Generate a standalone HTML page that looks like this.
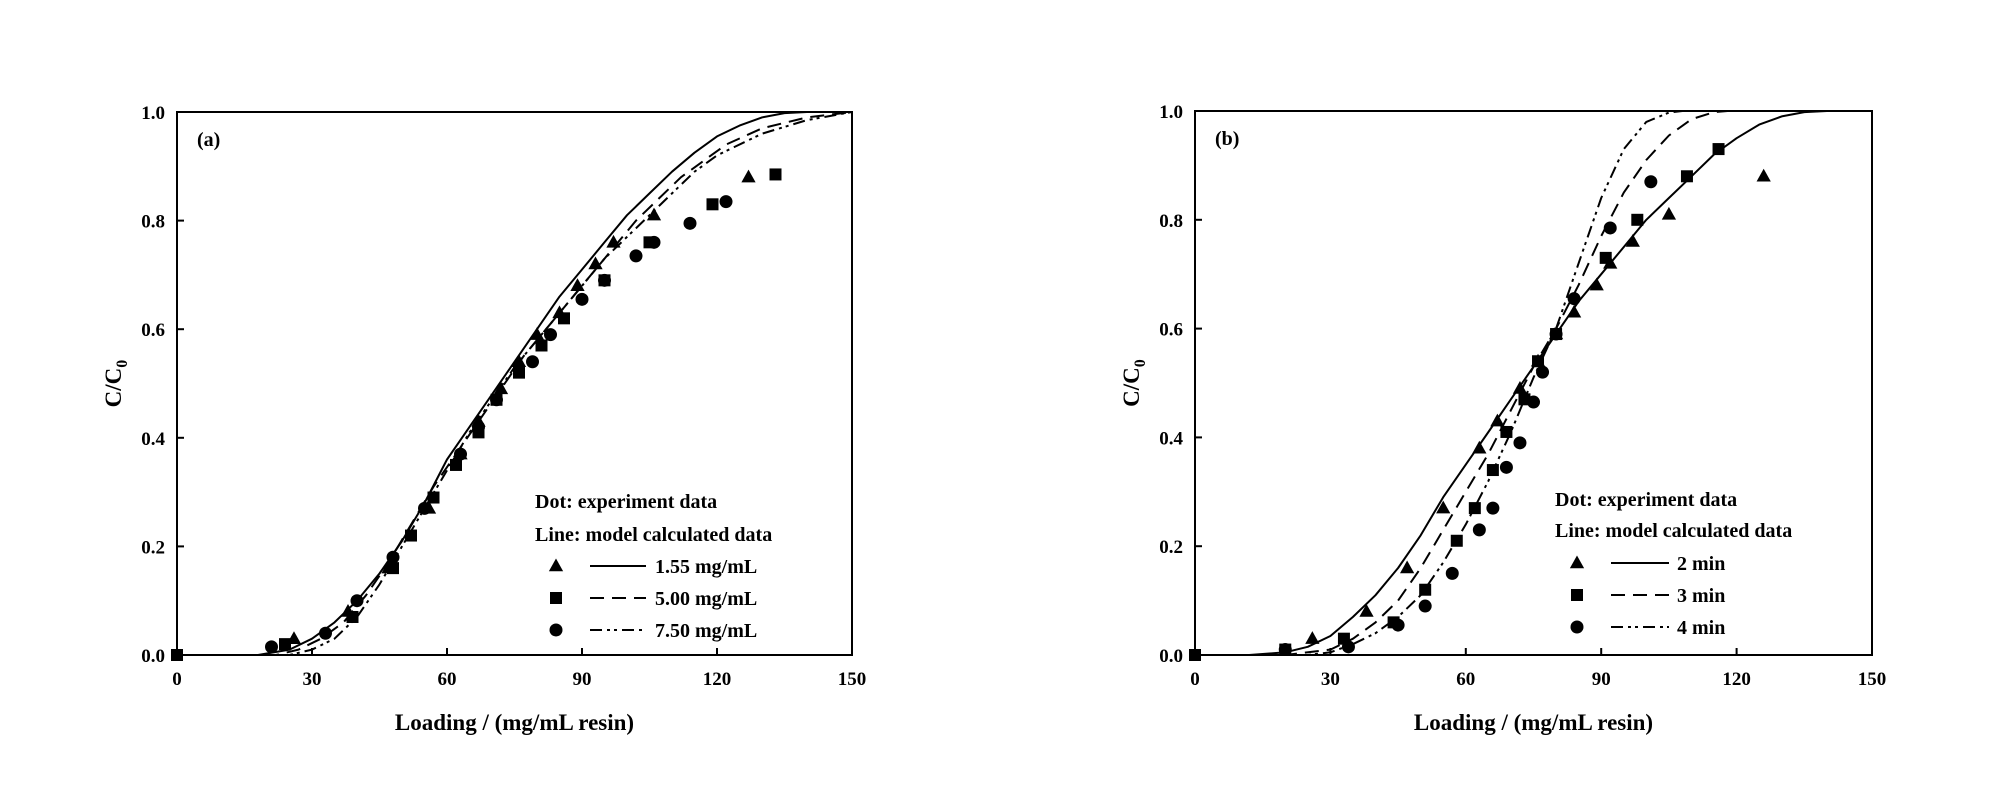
<!DOCTYPE html>
<html><head><meta charset="utf-8"><style>
html,body{margin:0;padding:0;background:#fff;}
svg{display:block;font-family:"Liberation Serif",serif;font-weight:bold;}
</style></head><body>
<svg id="chart" width="2006" height="802" viewBox="0 0 2006 802"></svg>
<script>
// ---- Panel (a) data ----
const aTriX=[26,38,47,56,63,67,72,76,80,85,89,93,97,106,127];
const aTriY=[0.03,0.08,0.16,0.27,0.37,0.43,0.49,0.54,0.59,0.63,0.68,0.72,0.76,0.81,0.88];
const aSqX=[0,24,39,48,52,57,62,67,71,76,81,86,95,105,119,133];
const aSqY=[0,0.02,0.07,0.16,0.22,0.29,0.35,0.41,0.47,0.52,0.57,0.62,0.69,0.76,0.83,0.885];
const aCirX=[21,33,40,48,55,63,67,71,79,83,90,95,102,106,114,122];
const aCirY=[0.015,0.04,0.1,0.18,0.27,0.37,0.42,0.47,0.54,0.59,0.655,0.69,0.735,0.76,0.795,0.835];
const aL1X=[0,18,25,30,35,40,45,50,55,60,65,70,75,80,85,90,95,100,105,110,115,120,125,130,135,140,150];
const aL1Y=[0,0,0.01,0.03,0.06,0.1,0.15,0.21,0.28,0.36,0.42,0.48,0.54,0.6,0.66,0.71,0.76,0.81,0.85,0.89,0.925,0.955,0.975,0.99,0.998,1,1];
const aL2X=[0,22,27,32,37,42,47,52,57,62,67,72,77,82,87,92,97,102,107,112,117,122,130,140,150];
const aL2Y=[0,0,0.01,0.03,0.06,0.11,0.17,0.24,0.31,0.37,0.43,0.49,0.55,0.6,0.65,0.7,0.75,0.8,0.84,0.88,0.91,0.94,0.97,0.99,1];
const aL3X=[0,25,30,35,40,45,50,55,60,65,70,75,80,85,90,95,100,105,110,115,120,130,140,150];
const aL3Y=[0,0,0.01,0.03,0.07,0.13,0.2,0.27,0.34,0.41,0.47,0.53,0.58,0.63,0.68,0.73,0.77,0.81,0.85,0.89,0.92,0.96,0.985,1];
const aLabels=["1.55 mg/mL","5.00 mg/mL","7.50 mg/mL"];
// ---- Panel (b) data ----
const bTriX=[26,38,47,55,63,67,72,76,80,84,89,92,97,105,126];
const bTriY=[0.03,0.08,0.16,0.27,0.38,0.43,0.49,0.54,0.59,0.63,0.68,0.72,0.76,0.81,0.88];
const bSqX=[0,20,33,44,51,58,62,66,69,73,76,80,91,98,109,116];
const bSqY=[0,0.01,0.03,0.06,0.12,0.21,0.27,0.34,0.41,0.47,0.54,0.59,0.73,0.8,0.88,0.93];
const bCirX=[20,34,45,51,57,63,66,69,72,75,77,80,84,92,101];
const bCirY=[0.01,0.015,0.055,0.09,0.15,0.23,0.27,0.345,0.39,0.465,0.52,0.59,0.655,0.785,0.87];
const bL1X=[0,12,20,25,30,35,40,45,50,55,60,65,70,75,80,85,90,95,100,105,110,115,120,125,130,135,140,150];
const bL1Y=[0,0,0.005,0.015,0.035,0.07,0.11,0.16,0.22,0.29,0.35,0.41,0.47,0.53,0.59,0.65,0.7,0.75,0.8,0.84,0.88,0.92,0.95,0.975,0.99,0.998,1,1];
const bL2X=[0,20,30,35,40,45,50,55,60,65,70,75,80,85,90,95,100,105,110,115,118,150];
const bL2Y=[0,0,0.01,0.03,0.06,0.1,0.16,0.23,0.3,0.37,0.45,0.53,0.6,0.68,0.77,0.85,0.91,0.955,0.985,0.998,1,1];
const bL3X=[0,25,30,35,40,45,50,55,60,65,70,75,80,85,90,95,100,105,108,150];
const bL3Y=[0,0,0.005,0.02,0.04,0.07,0.11,0.17,0.24,0.32,0.41,0.51,0.6,0.72,0.84,0.93,0.98,0.997,1,1];
const bLabels=["2 min","3 min","4 min"];
const xTicks=[0,30,60,90,120,150];
const yTicks=[0,0.2,0.4,0.6,0.8,1.0];

const NS="http://www.w3.org/2000/svg";
const svg=document.getElementById('chart');
function mk(tag,attrs,parent,text){const e=document.createElementNS(NS,tag);for(const k in attrs)e.setAttribute(k,attrs[k]);if(text!==undefined)e.textContent=text;(parent||svg).appendChild(e);return e;}

function panel(id,L,R,T,B,tag,tri,sq,cir,lines,labels,leg){
  const g=mk('g',{});
  
  
  const sx=v=>L+(v/150)*(R-L), sy=v=>B-v*(B-T);
  const frame=mk('rect',{x:L,y:T,width:R-L,height:B-T,fill:'none',stroke:'#000','stroke-width':2},g);
  
  
  xTicks.forEach(t=>{
    const x=sx(t);
    mk('line',{x1:x,y1:B,x2:x,y2:B-7,stroke:'#000','stroke-width':2},g);
    const tl=mk('text',{x:x,y:B+30,'font-size':19,'text-anchor':'middle'},g,String(t));
    
    
  });
  yTicks.forEach(t=>{
    const y=sy(t);
    mk('line',{x1:L,y1:y,x2:L+7,y2:y,stroke:'#000','stroke-width':2},g);
    const tl=mk('text',{x:L-12,y:y+7,'font-size':19,'text-anchor':'end'},g,t.toFixed(1));
    
    
  });
  const xt=mk('text',{x:(L+R)/2,y:730,'font-size':23,'text-anchor':'middle'},g,'Loading / (mg/mL resin)');
  
  
  const yt=mk('text',{transform:`translate(${L-56},${(T+B)/2}) rotate(-90)`,'font-size':23,'text-anchor':'middle'},g);
  
  
  yt.appendChild(document.createTextNode('C/C'));
  mk('tspan',{'font-size':16,dy:6},yt,'0');
  const pl=mk('text',{x:L+20,y:T+34,'font-size':20},g,tag);
  
  
  const dashes=['none','14,8','12,5,3,4,3,5'];
  lines.forEach((ln,i)=>{
    const d=ln[0].map((x,j)=>(j?'L':'M')+sx(x).toFixed(1)+','+sy(ln[1][j]).toFixed(1)).join('');
    const p=mk('path',{d:d,fill:'none',stroke:'#000','stroke-width':2,'stroke-dasharray':dashes[i],'stroke-linejoin':'round'},g);
    
    
  });
  function triangle(x,y,s){return `${x},${y-s} ${x-s*0.95},${y+s*0.7} ${x+s*0.95},${y+s*0.7}`;}
  tri[0].forEach((x,j)=>{const m=mk('polygon',{points:triangle(sx(x),sy(tri[1][j]),7.5),fill:'#000'},g);
    
    });
  sq[0].forEach((x,j)=>{const m=mk('rect',{x:sx(x)-6,y:sy(sq[1][j])-6,width:12,height:12,fill:'#000'},g);
    
    });
  cir[0].forEach((x,j)=>{const m=mk('circle',{cx:sx(x),cy:sy(cir[1][j]),r:6.5,fill:'#000'},g);
    
    });
  const lg=mk('g',{},g);
  
  
  mk('text',{x:leg.tx,y:leg.y0+7,'font-size':20},lg,'Dot: experiment data');
  mk('text',{x:leg.tx,y:leg.y1+7,'font-size':20},lg,'Line: model calculated data');
  labels.forEach((lab,i)=>{
    const y=leg.ys[i];
    const e=mk('g',{},lg);
    
    
    if(i===0)mk('polygon',{points:triangle(leg.mx,y,7.5),fill:'#000'},e);
    if(i===1)mk('rect',{x:leg.mx-6,y:y-6,width:12,height:12,fill:'#000'},e);
    if(i===2)mk('circle',{cx:leg.mx,cy:y,r:6.5,fill:'#000'},e);
    mk('line',{x1:leg.l1,y1:y,x2:leg.l2,y2:y,stroke:'#000','stroke-width':2,'stroke-dasharray':dashes[i]},e);
    mk('text',{x:leg.lt,y:y+7,'font-size':20},e,lab);
  });
}
panel('a',177,852,112,655,'(a)',[aTriX,aTriY],[aSqX,aSqY],[aCirX,aCirY],[[aL1X,aL1Y],[aL2X,aL2Y],[aL3X,aL3Y]],aLabels,
  {tx:535,y0:501,y1:534,ys:[566,598,630],mx:556,l1:590,l2:646,lt:655});
panel('b',1195,1872,111,655,'(b)',[bTriX,bTriY],[bSqX,bSqY],[bCirX,bCirY],[[bL1X,bL1Y],[bL2X,bL2Y],[bL3X,bL3Y]],bLabels,
  {tx:1555,y0:499,y1:530,ys:[563,595,627],mx:1577,l1:1611,l2:1669,lt:1677});
</script>
</body></html>
